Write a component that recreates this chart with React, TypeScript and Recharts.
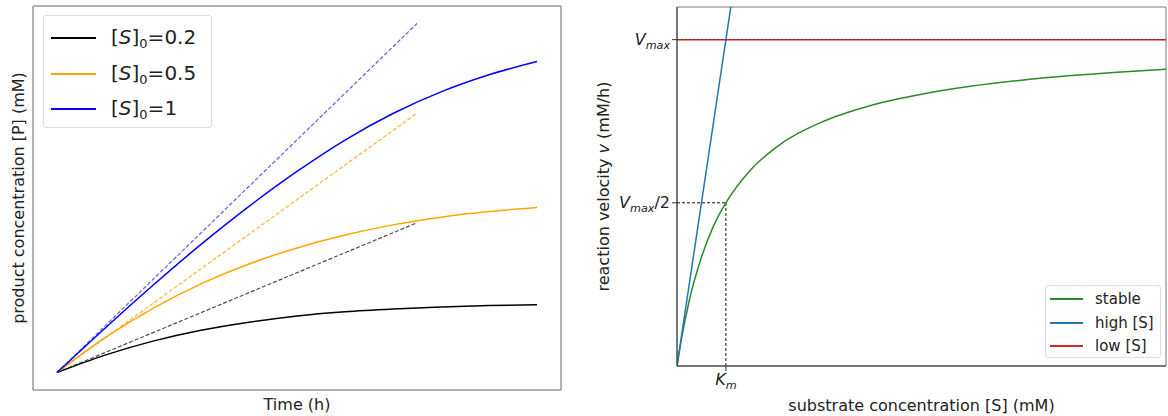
import React from "react";
import { LineChart, Line, XAxis, YAxis, ReferenceArea, ReferenceLine, Legend } from "recharts";

const FONT = "'DejaVu Sans', Verdana, sans-serif";

// left panel: product formed over time, one curve per starting substrate
const times = [0, 1, 2, 3, 4, 5, 6, 7, 8, 9, 10];
const productS02 = [0, 0.5, 0.9, 1.21, 1.44, 1.62, 1.74, 1.82, 1.88, 1.92, 1.94];
const productS05 = [0, 1.0, 1.84, 2.54, 3.11, 3.57, 3.94, 4.23, 4.45, 4.61, 4.73];
const productS1 = [0, 1.27, 2.5, 3.67, 4.76, 5.76, 6.66, 7.42, 8.04, 8.53, 8.91];
// initial-rate tangents (dashed)
const tangentTimes = [0, 7.5];
const tangentS02 = [0, 4.29];
const tangentS05 = [0, 7.43];
const tangentS1 = [0, 10.0];
const leftLegend = ["0.2", "0.5", "1"];
const leftColors = ["#000000", "#ffa500", "#0000ff"];
const tangentColors = ["#222222", "#ffa500", "#3a3acc"];

// right panel: Michaelis-Menten velocity vs substrate
const substrate = [0, 0.1, 0.25, 0.5, 0.75, 1, 1.5, 2, 3, 4, 5, 6, 7, 8, 9, 10];
const velocityStable = [0, 0.09, 0.2, 0.333, 0.43, 0.5, 0.6, 0.667, 0.75, 0.8, 0.833, 0.857, 0.875, 0.889, 0.9, 0.909];
const highS = [0, 1.2];
const highV = [0, 1.2];
const lowS = [0, 10];
const lowV = [1, 1];
const rightLegend = ["stable", "high [S]", "low [S]"];
const rightColors = ["#2a8a2a", "#1f77b4", "#d62728"];
const yTicks = [0.5, 1];
const yTickLabels = ["V_max/2", "V_max"];
const xTicks = [1];
const xTickLabels = ["K_m"];

const zip = (xs: number[], ys: number[], xk: string, yk: string) =>
  xs.map((x, i) => ({ [xk]: x, [yk]: ys[i] }));

const leftSolid = [productS02, productS05, productS1].map(v => zip(times, v, "t", "p"));
const leftDashed = [tangentS02, tangentS05, tangentS1].map(v => zip(tangentTimes, v, "t", "p"));
const stableData = zip(substrate, velocityStable, "s", "v");
const highData = zip(highS, highV, "s", "v");
const lowData = zip(lowS, lowV, "s", "v");

// "V_max/2" -> italic V, subscript max, then the rest
function MathText({ text, x, y, anchor, size = 16 }: any) {
  const m = text.match(/^([^_]+)_([a-z]+)(.*)$/);
  if (!m) return <text x={x} y={y} textAnchor={anchor}>{text}</text>;
  return (
    <text x={x} y={y} textAnchor={anchor} fontFamily={FONT} fontSize={size} fill="#222">
      <tspan fontStyle="italic">{m[1]}</tspan>
      <tspan fontStyle="italic" fontSize={size * 0.7} dy={4}>{m[2]}</tspan>
      {m[3] ? <tspan dy={-4}>{m[3]}</tspan> : null}
    </text>
  );
}

const yTick = (props: any) => {
  const i = yTicks.indexOf(props.payload.value);
  return <MathText text={yTickLabels[i]} x={props.x} y={props.y + 5} anchor="end" />;
};
const xTick = (props: any) => {
  const i = xTicks.indexOf(props.payload.value);
  return <MathText text={xTickLabels[i]} x={props.x} y={props.y + 12} anchor="middle" />;
};

const xTitle = (text: string, dy: number) => ({ viewBox }: any) => (
  <text x={viewBox.x + viewBox.width / 2} y={viewBox.y + dy} textAnchor="middle"
    fontFamily={FONT} fontSize={16} fill="#222">{text}</text>
);
const yTitle = (parts: [string, boolean][], dx: number) => ({ viewBox }: any) => {
  const cx = viewBox.x + dx;
  const cy = viewBox.y + viewBox.height / 2;
  return (
    <text x={cx} y={cy} textAnchor="middle" dominantBaseline="central"
      transform={`rotate(-90 ${cx} ${cy})`} fontFamily={FONT} fontSize={16} fill="#222">
      {parts.map(([s, it], i) => <tspan key={i} fontStyle={it ? "italic" : "normal"}>{s}</tspan>)}
    </text>
  );
};

const LeftLegendBox = () => (
  <div style={{ width: 169, height: 113, boxSizing: "border-box", border: "1px solid #ddd",
    borderRadius: 3, background: "rgba(255,255,255,0.85)", position: "relative", fontFamily: FONT }}>
    {leftLegend.map((v, i) => (
      <div key={v} style={{ position: "absolute", left: 7, top: 22 + i * 35.5 - 13, height: 26,
        display: "flex", alignItems: "center" }}>
        <div style={{ width: 45, height: 2, background: leftColors[i] }} />
        <span style={{ marginLeft: 15, fontSize: 20, color: "#222", whiteSpace: "nowrap" }}>
          [<i>S</i>]<sub style={{ fontSize: 13, verticalAlign: "-4px" }}>0</sub>={v}
        </span>
      </div>
    ))}
  </div>
);

const RightLegendBox = () => (
  <div style={{ width: 116, height: 73, boxSizing: "border-box", border: "1px solid #ddd",
    borderRadius: 3, background: "rgba(255,255,255,0.85)", position: "relative", fontFamily: FONT }}>
    {rightLegend.map((v, i) => (
      <div key={v} style={{ position: "absolute", left: 4, top: 13 + i * 23.5 - 10, height: 20,
        display: "flex", alignItems: "center" }}>
        <div style={{ width: 33, height: 2, background: rightColors[i] }} />
        <span style={{ marginLeft: 12, fontSize: 15, color: "#222", whiteSpace: "nowrap" }}>{v}</span>
      </div>
    ))}
  </div>
);

export default function App() {
  return (
    <div style={{ position: "absolute", left: 0, top: 0, width: 1168, height: 416, background: "#fff" }}>
      <div style={{ position: "absolute", left: 0, top: 0 }}>
        <LineChart width={572} height={416} margin={{ top: 6, right: 11, bottom: 0, left: 8 }}>
          <XAxis type="number" dataKey="t" domain={[-0.5, 10.5]} ticks={[]} tick={false}
            tickLine={false} axisLine={false} height={26}
            label={{ content: xTitle("Time (h)", 20) }} />
          <YAxis type="number" domain={[-0.5, 10.5]} ticks={[]} tick={false}
            tickLine={false} axisLine={false} width={25}
            label={{ content: yTitle([["product concentration [P] (mM)", false]], 10) }} />
          <ReferenceArea x1={-0.5} x2={10.5} y1={-0.5} y2={10.5} fill="none" fillOpacity={0}
            stroke="#666" strokeWidth={1} />
          {leftDashed.map((d, i) => (
            <Line key={"d" + i} data={d} dataKey="p" type="linear" stroke={tangentColors[i]}
              strokeOpacity={0.8} strokeWidth={1.2} strokeDasharray="4 2" dot={false}
              legendType="none" isAnimationActive={false} />
          ))}
          {leftSolid.map((d, i) => (
            <Line key={"s" + i} data={d} dataKey="p" type="monotone" stroke={leftColors[i]}
              strokeWidth={1.5} dot={false} isAnimationActive={false} />
          ))}
          <Legend layout="horizontal" verticalAlign="middle" content={() => <LeftLegendBox />}
            wrapperStyle={{ left: 43, top: 15, width: 169, height: 113 }} />
        </LineChart>
      </div>
      <div style={{ position: "absolute", left: 570, top: 0 }}>
        <LineChart width={598} height={416} margin={{ top: 7, right: 2, bottom: 0, left: 20 }}>
          <XAxis type="number" dataKey="s" domain={[0, 10]} ticks={xTicks} tick={xTick}
            tickSize={5} tickLine={{ stroke: "#333" }} axisLine={{ stroke: "#333" }} height={50}
            allowDataOverflow
            label={{ content: xTitle("substrate concentration [S] (mM)", 45) }} />
          <YAxis type="number" domain={[0, 1.1]} ticks={yTicks} tick={yTick} tickSize={5}
            tickLine={{ stroke: "#333" }} axisLine={{ stroke: "#333" }} width={87}
            allowDataOverflow
            label={{ content: yTitle([["reaction velocity ", false], ["v", true], [" (mM/h)", false]], 13) }} />
          <ReferenceArea x1={0} x2={10} y1={0} y2={1.1} fill="none" fillOpacity={0}
            stroke="#777" strokeWidth={1} />
          <ReferenceLine segment={[{ x: 0, y: 0.5 }, { x: 1, y: 0.5 }]} stroke="#111"
            strokeDasharray="3 2" strokeWidth={1} />
          <ReferenceLine segment={[{ x: 1, y: 0 }, { x: 1, y: 0.5 }]} stroke="#111"
            strokeDasharray="3 2" strokeWidth={1} />
          <Line data={stableData} dataKey="v" type="monotone" stroke={rightColors[0]}
            strokeWidth={1.5} dot={false} isAnimationActive={false} />
          <Line data={highData} dataKey="v" type="linear" stroke={rightColors[1]}
            strokeWidth={1.5} dot={false} isAnimationActive={false} />
          <Line data={lowData} dataKey="v" type="linear" stroke={rightColors[2]}
            strokeWidth={1.5} dot={false} isAnimationActive={false} />
          <ReferenceLine y={1} stroke="#222" strokeDasharray="2 2" strokeWidth={0.8} strokeOpacity={0.7} />
          <Legend layout="horizontal" verticalAlign="middle" content={() => <RightLegendBox />}
            wrapperStyle={{ left: 475, top: 285, width: 116, height: 73 }} />
        </LineChart>
      </div>
    </div>
  );
}
